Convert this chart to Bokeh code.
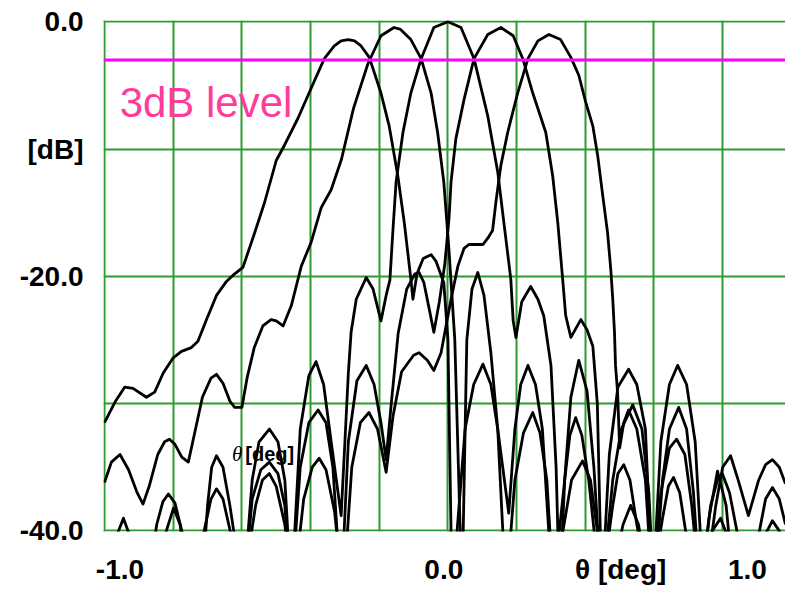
from bokeh.plotting import figure
from bokeh.models import Range1d, FixedTicker, Span, Label
from bokeh.embed import file_html
from bokeh.resources import INLINE

# ---------------- data (theta in deg, level in dB) ----------------
beam1 = [(-1.000, -31.5), (-0.970, -29.9), (-0.941, -28.7), (-0.917, -28.8), (-0.878, -29.5),
         (-0.854, -29.1), (-0.829, -27.6), (-0.800, -26.4), (-0.776, -25.9), (-0.747, -25.6),
         (-0.728, -25.1), (-0.703, -23.4), (-0.674, -21.5), (-0.645, -20.4), (-0.621, -19.8),
         (-0.597, -19.3), (-0.563, -16.6), (-0.534, -14.2), (-0.500, -10.9), (-0.476, -9.7),
         (-0.437, -7.6), (-0.398, -5.2), (-0.360, -2.9), (-0.331, -1.9), (-0.311, -1.5),
         (-0.290, -1.4), (-0.272, -1.5), (-0.253, -1.9), (-0.229, -2.8), (-0.195, -5.6),
         (-0.171, -8.2), (-0.146, -12.1), (-0.127, -15.8), (-0.108, -20.2), (-0.102, -21.8),
         (-0.090, -19.8), (-0.072, -18.6), (-0.049, -18.3), (-0.035, -18.8), (-0.012, -20.5),
         (0.000, -25.0), (0.012, -45.0), (0.050, -32.0), (0.075, -28.5), (0.102, -26.9),
         (0.125, -28.5), (0.145, -32.0), (0.169, -45.0), (0.195, -36.0), (0.220, -32.3),
         (0.247, -30.7), (0.268, -32.3), (0.288, -36.0), (0.308, -45.0), (0.335, -40.0),
         (0.360, -36.0), (0.392, -34.5), (0.415, -36.0), (0.435, -40.0), (0.453, -45.0),
         (0.490, -42.0), (0.510, -39.5), (0.532, -38.0), (0.555, -39.5), (0.575, -43.0),
         (0.596, -45.0), (0.983, -45.0)]

beam2 = [(-1.000, -36.2), (-0.980, -34.6), (-0.955, -34.0), (-0.930, -35.2), (-0.905, -37.0),
         (-0.888, -37.9), (-0.870, -36.5), (-0.845, -34.0), (-0.825, -33.0), (-0.811, -32.8),
         (-0.795, -33.2), (-0.775, -34.2), (-0.756, -34.6), (-0.735, -32.0), (-0.715, -29.5),
         (-0.690, -28.0), (-0.674, -27.7), (-0.655, -28.4), (-0.635, -29.8), (-0.621, -30.3),
         (-0.600, -30.3), (-0.585, -28.0), (-0.564, -25.6), (-0.539, -23.9), (-0.515, -23.4),
         (-0.500, -23.5), (-0.480, -23.9), (-0.456, -22.3), (-0.427, -19.2), (-0.398, -17.3),
         (-0.369, -14.6), (-0.340, -13.2), (-0.310, -10.8), (-0.275, -6.8), (-0.233, -3.3),
         (-0.195, -1.1), (-0.157, -0.45), (-0.138, -0.6), (-0.108, -1.4), (-0.078, -2.9),
         (-0.049, -5.6), (-0.030, -8.7), (-0.012, -12.6), (0.003, -17.9), (0.020, -25.0),
         (0.041, -45.0), (0.055, -25.0), (0.070, -21.0), (0.087, -19.7), (0.105, -21.5),
         (0.125, -26.0), (0.145, -32.0), (0.177, -38.6), (0.195, -32.0), (0.212, -28.5),
         (0.233, -27.0), (0.255, -28.5), (0.275, -32.0), (0.305, -45.0), (0.340, -36.0),
         (0.355, -32.5), (0.372, -31.1), (0.390, -32.5), (0.410, -36.0), (0.445, -45.0),
         (0.480, -38.0), (0.495, -35.5), (0.512, -34.8), (0.530, -36.0), (0.550, -39.5),
         (0.590, -45.0), (0.625, -39.0), (0.642, -36.5), (0.657, -35.8), (0.675, -37.0),
         (0.695, -40.5), (0.735, -45.0), (0.770, -40.0), (0.794, -39.0), (0.815, -40.5),
         (0.850, -45.0), (0.983, -45.0)]

beam3 = [(-1.000, -45.0), (-0.980, -45.0), (-0.962, -40.2), (-0.945, -39.0), (-0.925, -40.5),
         (-0.878, -45.0), (-0.848, -39.5), (-0.830, -37.7), (-0.814, -37.1), (-0.795, -37.8),
         (-0.775, -40.0), (-0.718, -45.0), (-0.700, -38.0), (-0.688, -35.0), (-0.674, -34.1),
         (-0.655, -35.0), (-0.635, -38.0), (-0.596, -45.0), (-0.570, -36.0), (-0.550, -33.0),
         (-0.520, -32.0), (-0.495, -33.0), (-0.475, -36.0), (-0.456, -45.0), (-0.430, -32.0),
         (-0.405, -27.8), (-0.384, -26.7), (-0.362, -28.5), (-0.340, -33.0), (-0.311, -38.8),
         (-0.300, -33.0), (-0.290, -27.6), (-0.282, -24.4), (-0.267, -21.8), (-0.238, -20.1),
         (-0.218, -21.0), (-0.195, -23.5), (-0.180, -21.5), (-0.169, -20.3), (-0.160, -16.3),
         (-0.151, -12.6), (-0.131, -8.7), (-0.108, -5.6), (-0.078, -2.9), (-0.041, -0.45),
         (0.000, 0.0), (0.038, -0.45), (0.076, -2.9), (0.116, -7.4), (0.145, -11.8),
         (0.163, -15.8), (0.183, -20.2), (0.190, -23.5), (0.198, -24.8), (0.215, -22.0),
         (0.241, -20.8), (0.262, -21.8), (0.279, -23.1), (0.300, -27.0), (0.315, -35.0),
         (0.325, -45.0), (0.340, -36.0), (0.358, -29.5), (0.381, -26.6), (0.405, -29.0),
         (0.425, -35.0), (0.448, -45.0), (0.480, -36.0), (0.505, -32.0), (0.538, -30.1),
         (0.565, -32.0), (0.585, -37.0), (0.600, -45.0), (0.625, -36.0), (0.645, -32.0),
         (0.672, -30.3), (0.695, -32.0), (0.715, -37.0), (0.735, -45.0), (0.760, -39.0),
         (0.785, -35.3), (0.810, -38.0), (0.835, -45.0), (0.870, -45.0), (0.900, -41.0),
         (0.925, -37.5), (0.945, -36.6), (0.965, -37.5), (0.983, -39.5)]

beam4 = [(-0.860, -45.0), (-0.820, -40.0), (-0.799, -38.2), (-0.780, -39.5), (-0.755, -45.0),
         (-0.710, -40.0), (-0.690, -37.5), (-0.674, -36.7), (-0.655, -37.5), (-0.630, -40.5),
         (-0.596, -45.0), (-0.570, -37.5), (-0.545, -35.2), (-0.520, -34.6), (-0.495, -35.5),
         (-0.475, -38.0), (-0.456, -45.0), (-0.430, -35.0), (-0.405, -31.5), (-0.378, -30.5),
         (-0.355, -31.5), (-0.335, -35.0), (-0.311, -45.0), (-0.290, -33.0), (-0.265, -28.2),
         (-0.238, -27.0), (-0.215, -28.5), (-0.195, -31.5), (-0.180, -34.4), (-0.165, -30.0),
         (-0.145, -24.5), (-0.120, -21.0), (-0.096, -19.8), (-0.084, -19.7), (-0.070, -20.5),
         (-0.055, -22.5), (-0.041, -24.4), (-0.025, -22.0), (-0.009, -19.0), (0.003, -15.5),
         (0.009, -12.6), (0.023, -9.2), (0.047, -6.1), (0.076, -2.9), (0.116, -1.0),
         (0.154, -0.45), (0.190, -1.1), (0.218, -2.9), (0.247, -5.6), (0.285, -8.7),
         (0.305, -12.1), (0.320, -15.8), (0.334, -20.2), (0.343, -23.1), (0.358, -24.8),
         (0.387, -23.4), (0.405, -24.2), (0.422, -25.5), (0.435, -30.0), (0.448, -45.0),
         (0.470, -34.0), (0.495, -28.7), (0.526, -27.3), (0.550, -28.5), (0.575, -32.0),
         (0.596, -45.0), (0.620, -33.0), (0.645, -28.5), (0.669, -27.0), (0.695, -28.5),
         (0.720, -33.0), (0.745, -45.0), (0.780, -38.0), (0.800, -35.0), (0.823, -34.1),
         (0.845, -36.0), (0.875, -38.8), (0.905, -36.0), (0.925, -34.8), (0.945, -34.4),
         (0.965, -35.0), (0.983, -36.3)]

beam5 = [(-0.600, -45.0), (-0.560, -38.0), (-0.540, -36.0), (-0.520, -35.5), (-0.500, -36.5),
         (-0.475, -39.5), (-0.451, -45.0), (-0.420, -37.5), (-0.395, -35.0), (-0.375, -34.3),
         (-0.355, -35.2), (-0.330, -38.5), (-0.305, -45.0), (-0.280, -35.0), (-0.255, -31.5),
         (-0.230, -30.7), (-0.205, -32.0), (-0.180, -35.4), (-0.160, -31.0), (-0.135, -27.5),
         (-0.100, -26.2), (-0.084, -26.0), (-0.060, -26.6), (-0.041, -27.4), (-0.020, -26.0),
         (0.009, -21.8), (0.029, -19.2), (0.047, -17.8), (0.061, -17.5), (0.102, -17.5),
         (0.116, -17.0), (0.130, -16.4), (0.140, -14.1), (0.154, -11.3), (0.174, -8.7),
         (0.203, -5.6), (0.233, -2.9), (0.262, -1.5), (0.294, -1.0), (0.328, -1.4),
         (0.358, -2.8), (0.381, -4.2), (0.401, -6.3), (0.422, -8.2), (0.436, -10.5),
         (0.451, -13.7), (0.465, -16.6), (0.474, -19.4), (0.480, -21.8), (0.485, -24.4),
         (0.488, -27.0), (0.494, -29.1), (0.500, -33.5), (0.512, -31.5), (0.526, -30.5),
         (0.550, -32.0), (0.575, -36.0), (0.596, -45.0), (0.620, -37.0), (0.645, -33.5),
         (0.666, -32.8), (0.690, -34.0), (0.710, -38.0), (0.735, -45.0), (0.765, -38.0),
         (0.785, -36.0), (0.799, -35.5), (0.820, -37.0), (0.845, -40.5), (0.870, -45.0),
         (0.920, -40.5), (0.945, -39.2), (0.965, -40.0), (0.983, -42.0)]

beams = [beam1, beam2, beam3, beam4, beam5]

level_3db = -3.0
grid_x = [-1.0, -0.8, -0.6, -0.4, -0.2, 0.0, 0.2, 0.4, 0.6, 0.8]
grid_y = [0.0, -10.0, -20.0, -30.0, -40.0]
# tick labels (axis titles sit in the tick-label rows, as in the picture)
y_ticks = [0.0, -10.0, -20.0, -40.0]
y_tick_labels = ["0.0", "[dB]", "-20.0", "-40.0"]
x_tick_pos = [-0.955, -0.012, 0.503, 0.872]
x_tick_labels = ["-1.0", "0.0", "θ [deg]", "1.0"]

GREEN = "#2F9A2F"
MAGENTA = "#FF00FF"
PINK = "#FF3C9B"

p = figure(width=785, height=596,
           x_range=Range1d(-1.003, 0.983), y_range=Range1d(-40.05, 0.1),
           output_backend="svg", toolbar_location=None,
           min_border_left=103, min_border_right=0, min_border_top=20, min_border_bottom=65,
           background_fill_color="white", border_fill_color="white", outline_line_color=None)

p.xgrid.ticker = FixedTicker(ticks=grid_x)
p.ygrid.ticker = FixedTicker(ticks=grid_y)
for g in (p.xgrid, p.ygrid):
    g.grid_line_color = GREEN
    g.grid_line_width = 2
    g.grid_line_alpha = 1.0

p.xaxis.ticker = FixedTicker(ticks=x_tick_pos)
p.xaxis.major_label_overrides = {t: l for t, l in zip(x_tick_pos, x_tick_labels)}
p.yaxis.ticker = FixedTicker(ticks=y_ticks)
p.yaxis.major_label_overrides = {t: l for t, l in zip(y_ticks, y_tick_labels)}
for ax in (p.xaxis, p.yaxis):
    ax.axis_line_color = None
    ax.major_tick_line_color = None
    ax.minor_tick_line_color = None
    ax.major_tick_out = 0
    ax.major_tick_in = 0
    ax.major_label_text_font = "Liberation Sans"
    ax.major_label_text_font_style = "bold"
    ax.major_label_text_font_size = "28px"
    ax.major_label_text_color = "black"
p.xaxis.major_label_standoff = 22
p.yaxis.major_label_standoff = 20

p.add_layout(Span(location=level_3db, dimension="width", line_color=MAGENTA, line_width=3))

for b in beams:
    xs = [v[0] for v in b]
    ys = [v[1] for v in b]
    p.line(xs, ys, line_color="black", line_width=2.8, line_join="round")

labels = [
    Label(x=-0.956, y=-6.37, text="3dB level", text_font="Liberation Sans",
          text_font_size="42px", text_color=PINK, text_baseline="alphabetic"),
    Label(x=-0.599, y=-33.96, text="θ", text_font="Liberation Serif", text_font_style="italic",
          text_font_size="21px", text_color="black", text_align="right", text_baseline="alphabetic"),
    Label(x=-0.590, y=-33.96, text="[deg]", text_font="Liberation Sans", text_font_style="bold",
          text_font_size="20px", text_color="black", text_baseline="alphabetic"),
]
for lb in labels:
    p.add_layout(lb)

open("out.html", "w").write(file_html(p, INLINE))
